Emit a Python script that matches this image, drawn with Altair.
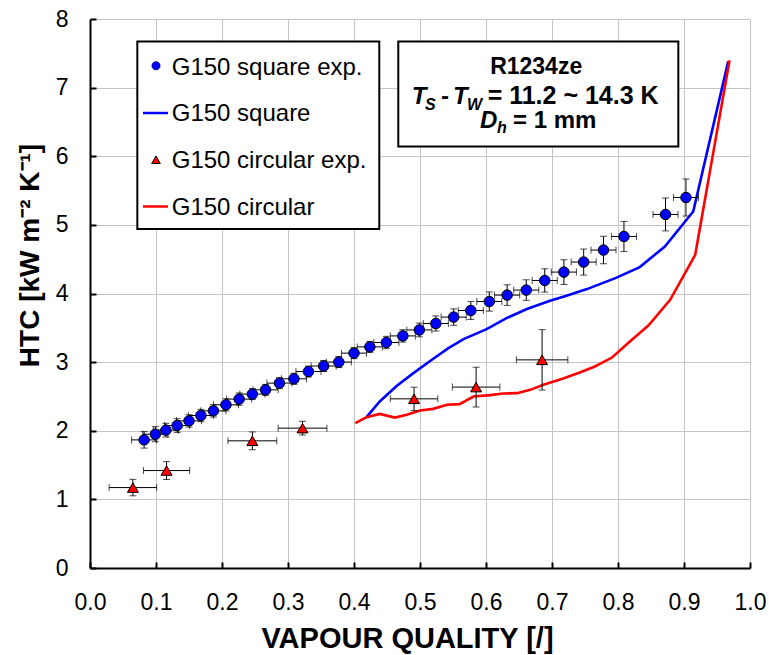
import altair as alt
import pandas as pd

# ---------------- data ----------------
sq_exp_x = [0.082, 0.099, 0.115, 0.132, 0.150, 0.168, 0.187, 0.206, 0.226, 0.246,
            0.266, 0.287, 0.309, 0.331, 0.354, 0.377, 0.400, 0.424, 0.449, 0.474,
            0.499, 0.524, 0.551, 0.577, 0.605, 0.632, 0.661, 0.689, 0.718, 0.748,
            0.778, 0.809, 0.872, 0.903]
sq_exp_y = [1.867, 1.950, 2.009, 2.076, 2.144, 2.222, 2.290, 2.378, 2.461, 2.534,
            2.596, 2.694, 2.757, 2.863, 2.943, 3.001, 3.131, 3.222, 3.286, 3.382,
            3.469, 3.563, 3.656, 3.752, 3.883, 3.977, 4.050, 4.190, 4.312, 4.458,
            4.633, 4.831, 5.152, 5.399]
sq_exp_xerr = [0.019, 0.019, 0.019, 0.019, 0.019, 0.019, 0.019, 0.019, 0.019, 0.019,
               0.019, 0.019, 0.019, 0.019, 0.019, 0.019, 0.019, 0.019, 0.019, 0.019,
               0.019, 0.019, 0.019, 0.019, 0.019, 0.019, 0.019, 0.019, 0.019, 0.019,
               0.019, 0.019, 0.019, 0.019]
sq_exp_yerr = [0.12, 0.11, 0.10, 0.10, 0.09, 0.09, 0.09, 0.09, 0.09, 0.08,
               0.08, 0.08, 0.08, 0.08, 0.08, 0.08, 0.08, 0.08, 0.09, 0.09,
               0.10, 0.11, 0.12, 0.13, 0.14, 0.15, 0.15, 0.17, 0.18, 0.19,
               0.20, 0.22, 0.24, 0.27]

ci_exp_x = [0.065, 0.116, 0.246, 0.322, 0.491, 0.585, 0.685]
ci_exp_y = [1.172, 1.420, 1.853, 2.038, 2.465, 2.636, 3.033]
ci_exp_xerr = [0.036, 0.035, 0.037, 0.037, 0.036, 0.036, 0.039]
ci_exp_yerr = [0.12, 0.13, 0.13, 0.10, 0.17, 0.29, 0.44]

sq_model_x = [0.419, 0.439, 0.465, 0.490, 0.518, 0.543, 0.566, 0.601, 0.631,
              0.662, 0.697, 0.722, 0.753, 0.796, 0.833, 0.871, 0.914, 0.967]
sq_model_y = [2.198, 2.426, 2.655, 2.840, 3.034, 3.204, 3.335, 3.481, 3.641,
              3.773, 3.894, 3.966, 4.064, 4.224, 4.385, 4.685, 5.195, 7.382]

ci_model_x = [0.402, 0.419, 0.439, 0.462, 0.480, 0.500, 0.520, 0.541, 0.560,
              0.581, 0.606, 0.626, 0.647, 0.667, 0.687, 0.717, 0.742, 0.765,
              0.791, 0.818, 0.846, 0.879, 0.917, 0.969]
ci_model_y = [2.111, 2.198, 2.246, 2.192, 2.232, 2.294, 2.319, 2.378, 2.388,
              2.499, 2.519, 2.542, 2.548, 2.596, 2.669, 2.761, 2.848, 2.936,
              3.067, 3.300, 3.534, 3.908, 4.564, 7.397]

x_ticks = [0.0, 0.1, 0.2, 0.3, 0.4, 0.5, 0.6, 0.7, 0.8, 0.9, 1.0]
y_ticks = [0, 1, 2, 3, 4, 5, 6, 7, 8]

legend_labels = ["G150 square exp.", "G150 square", "G150 circular exp.", "G150 circular"]

FONT = "Liberation Sans"
BLUE = "#0000ff"
RED = "#ff0000"

# ---------------- scales / axes ----------------
xscale = alt.Scale(domain=[0, 1], nice=False, zero=False)
yscale = alt.Scale(domain=[0, 8], nice=False, zero=False)

common_axis = dict(
    labelFont=FONT, titleFont=FONT, labelColor="black", titleColor="black",
    labelFontSize=23, tickSize={"expr": "-6"}, tickWidth=2, tickColor="black",
    domainColor="black", domainWidth=2, gridColor="#c4c4c4", gridWidth=1,
    labelOverlap=False, titleFontWeight="bold", titleBaseline="alphabetic",
    titleAlign="center",
)
x_axis = alt.Axis(values=x_ticks, format=".1f", title="VAPOUR QUALITY [/]",
                  labelFlush=False, labelPadding=29, titleFontSize=29,
                  titleX=317, titleY=79, **common_axis)
y_axis = alt.Axis(values=y_ticks, format="d", title="HTC [kW m⁻² K⁻¹]",
                  labelPadding=28, titleFontSize=28, titleAngle=270,
                  titleX=-52, titleY=236, **common_axis)


def X(f):
    return alt.X(f"{f}:Q", scale=xscale, axis=x_axis)


def Y(f):
    return alt.Y(f"{f}:Q", scale=yscale, axis=y_axis)


sq = pd.DataFrame({"x": sq_exp_x, "y": sq_exp_y, "xerr": sq_exp_xerr, "yerr": sq_exp_yerr})
ci = pd.DataFrame({"x": ci_exp_x, "y": ci_exp_y, "xerr": ci_exp_xerr, "yerr": ci_exp_yerr})
sqm = pd.DataFrame({"x": sq_model_x, "y": sq_model_y})
cim = pd.DataFrame({"x": ci_model_x, "y": ci_model_y})


def errorbars(df):
    base = alt.Chart(df).transform_calculate(
        xlo="datum.x - datum.xerr", xhi="datum.x + datum.xerr",
        ylo="datum.y - datum.yerr", yhi="datum.y + datum.yerr")
    hbar = base.mark_rule(color="black", strokeWidth=1).encode(x=X("xlo"), x2="xhi:Q", y=Y("y"))
    vbar = base.mark_rule(color="black", strokeWidth=1).encode(x=X("x"), y=Y("ylo"), y2="yhi:Q")
    cap_l = base.mark_tick(orient="vertical", size=7, thickness=1, color="black").encode(x=X("xlo"), y=Y("y"))
    cap_r = base.mark_tick(orient="vertical", size=7, thickness=1, color="black").encode(x=X("xhi"), y=Y("y"))
    cap_b = base.mark_tick(orient="horizontal", size=7, thickness=1, color="black").encode(x=X("x"), y=Y("ylo"))
    cap_t = base.mark_tick(orient="horizontal", size=7, thickness=1, color="black").encode(x=X("x"), y=Y("yhi"))
    return [hbar, vbar, cap_l, cap_r, cap_b, cap_t]


# ---------------- boxes (legend + annotation) ----------------
boxes = pd.DataFrame({"x": [0.0717, 0.4671], "x2": [0.4383, 0.8914],
                      "y": [7.673, 7.673], "y2": [4.939, 6.143]})
box_layer = alt.Chart(boxes).mark_rect(fill="white", stroke="black", strokeWidth=2).encode(
    x=X("x"), x2="x2:Q", y=Y("y"), y2="y2:Q")

# legend contents
leg_y = [7.319, 6.630, 5.949, 5.268]
leg_text_y = [7.188, 6.507, 5.827, 5.146]
leg_text = pd.DataFrame({"x": [0.1238] * 4, "y": leg_text_y, "t": legend_labels})
leg_text_layer = alt.Chart(leg_text).mark_text(
    font=FONT, fontSize=24, align="left", baseline="alphabetic", color="black"
).encode(x=X("x"), y=Y("y"), text="t:N")
leg_circle = alt.Chart(pd.DataFrame({"x": [0.1], "y": [leg_y[0]]})).mark_point(
    shape="circle", filled=True, size=70, fill=BLUE, stroke="#000033", strokeWidth=0.5, opacity=1
).encode(x=X("x"), y=Y("y"))
leg_tri = alt.Chart(pd.DataFrame({"x": [0.1], "y": [leg_y[2]]})).mark_point(
    shape="triangle-up", filled=True, size=75, fill=RED, stroke="black", strokeWidth=1, opacity=1
).encode(x=X("x"), y=Y("y"))
leg_lines = pd.DataFrame({"x": [0.0803, 0.0803], "x2": [0.1182, 0.1182],
                          "y": [leg_y[1], leg_y[3]], "c": ["blue", "red"]})
leg_line_layer = alt.Chart(leg_lines).mark_rule(strokeWidth=2.5).encode(
    x=X("x"), x2="x2:Q", y=Y("y"),
    color=alt.Color("c:N", scale=alt.Scale(domain=["blue", "red"], range=[BLUE, RED]), legend=None))

# annotation text
ann_bold = pd.DataFrame({"x": [0.676], "y": [7.198], "t": ["R1234ze"]})
ann_bold_layer = alt.Chart(ann_bold).mark_text(
    font=FONT, fontSize=23, fontWeight="bold", align="center", baseline="alphabetic", color="black"
).encode(x=X("x"), y=Y("y"), text="t:N")

ann_it = pd.DataFrame({"x": [0.4874, 0.550, 0.5909], "y": [6.765, 6.765, 6.405], "t": ["T", "T", "D"]})
ann_it_layer = alt.Chart(ann_it).mark_text(
    font=FONT, fontSize=24, fontWeight="bold", fontStyle="italic", align="left",
    baseline="alphabetic", color="black"
).encode(x=X("x"), y=Y("y"), text="t:N")

ann_sub = pd.DataFrame({"x": [0.5076, 0.5712, 0.6167], "y": [6.678, 6.678, 6.332], "t": ["S", "W", "h"]})
ann_sub_layer = alt.Chart(ann_sub).mark_text(
    font=FONT, fontSize=16, fontWeight="bold", fontStyle="italic", align="left",
    baseline="alphabetic", color="black"
).encode(x=X("x"), y=Y("y"), text="t:N")

ann_rest = pd.DataFrame({"x": [0.5318, 0.6410], "y": [6.765, 6.405],
                         "t": ["-", "= 1 mm"]})
ann_rest_layer = alt.Chart(ann_rest).mark_text(
    font=FONT, fontSize=24, fontWeight="bold", align="left", baseline="alphabetic", color="black"
).encode(x=X("x"), y=Y("y"), text="t:N")

ann_eq = pd.DataFrame({"x": [0.6025], "y": [6.765], "t": ["= 11.2 ~ 14.3 K"]})
ann_eq_layer = alt.Chart(ann_eq).mark_text(
    font=FONT, fontSize=25, fontWeight="bold", align="left", baseline="alphabetic", color="black"
).encode(x=X("x"), y=Y("y"), text="t:N")

# ---------------- data layers ----------------
sq_line = alt.Chart(sqm).mark_line(color=BLUE, strokeWidth=2.6).encode(x=X("x"), y=Y("y"))
ci_line = alt.Chart(cim).mark_line(color=RED, strokeWidth=2.6).encode(x=X("x"), y=Y("y"))

sq_pts = alt.Chart(sq).mark_point(
    shape="circle", filled=True, size=110, fill=BLUE, stroke="black", strokeWidth=1, opacity=1
).encode(x=X("x"), y=Y("y"))
ci_pts = alt.Chart(ci).mark_point(
    shape="triangle-up", filled=True, size=120, fill=RED, stroke="black", strokeWidth=1, opacity=1
).encode(x=X("x"), y=Y("y"))

layers = [box_layer, sq_line, ci_line] + errorbars(sq) + errorbars(ci) + [
    sq_pts, ci_pts, leg_line_layer, leg_circle, leg_tri, leg_text_layer,
    ann_bold_layer, ann_it_layer, ann_sub_layer, ann_rest_layer, ann_eq_layer]

chart = alt.layer(*layers).properties(
    width=660, height=549,
    autosize=alt.AutoSizeParams(type="none"),
    padding={"left": 90, "top": 19, "right": 19, "bottom": 87},
    background="white",
).configure_view(stroke=None)

chart.save("out.html", embed_options={"renderer": "svg", "actions": False})
